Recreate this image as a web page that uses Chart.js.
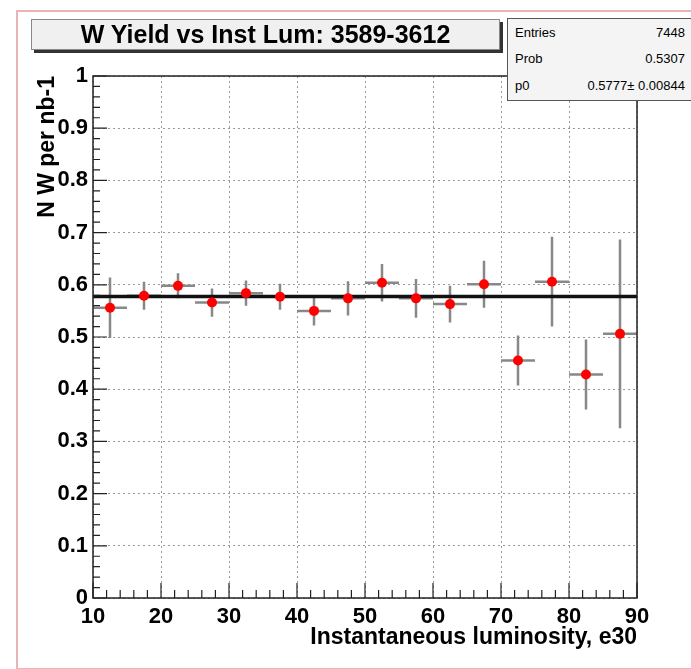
<!DOCTYPE html>
<html>
<head>
<meta charset="utf-8">
<script src="https://cdn.jsdelivr.net/npm/chart.js@4"></script>
<style>
  body { margin: 0; background: #fff; font-family: "Liberation Sans", Arial, sans-serif; }
  #wrap { position: relative; width: 691px; height: 669px; overflow: hidden; }
  #frame { position: absolute; left: 16px; top: 10px; width: 700px; height: 656px; border: 2px solid #e8b4b4; }
  #chartBox { position: absolute; left: 0; top: 0; width: 691px; height: 669px; }
  #title {
    position: absolute; left: 31px; top: 19px; width: 467px; height: 29px;
    background: #f0f0f0; border: 1px solid #888; box-shadow: 3px 3px 0 #333;
    font-weight: bold; font-size: 25px; line-height: 29px; text-align: center; color: #000;
  }
  #stats {
    position: absolute; left: 507px; top: 18px; width: 190px; height: 81px;
    background: #f4f4f4; border: 1px solid #555; font-size: 13px; color: #000;
  }
  #stats .row { position: absolute; left: 7px; width: 170px; height: 16px; line-height: 16px; }
  #stats .row span:last-child { position: absolute; right: 0; }
</style>
</head>
<body>
<div id="wrap">
  <div id="frame"></div>
  <div id="chartBox"><canvas id="chart"></canvas></div>
  <div id="title">W Yield vs Inst Lum: 3589-3612</div>
  <div id="stats">
    <div class="row" style="top:6px"><span>Entries</span><span>7448</span></div>
    <div class="row" style="top:32px"><span>Prob</span><span>0.5307</span></div>
    <div class="row" style="top:59px"><span>p0</span><span>0.5777&plusmn; 0.00844</span></div>
  </div>
</div>
<script>
// luminosity bins (centres, half width) and W yield per bin
const lumCenters = [12.5, 17.5, 22.5, 27.5, 32.5, 37.5, 42.5, 47.5, 52.5, 57.5, 62.5, 67.5, 72.5, 77.5, 82.5, 87.5];
const lumHalfWidth = [2.5, 2.5, 2.5, 2.5, 2.5, 2.5, 2.5, 2.5, 2.5, 2.5, 2.5, 2.5, 2.5, 2.5, 2.5, 2.5];
const yieldVals = [0.556, 0.579, 0.598, 0.566, 0.584, 0.577, 0.550, 0.574, 0.604, 0.574, 0.563, 0.601, 0.455, 0.606, 0.428, 0.506];
const yieldErrs = [0.058, 0.027, 0.024, 0.027, 0.024, 0.025, 0.028, 0.033, 0.036, 0.037, 0.035, 0.045, 0.048, 0.086, 0.067, 0.181];

// constant fit result
const fitP0 = 0.5777;
const fitRange = [10, 90];

const xTicks = [10, 20, 30, 40, 50, 60, 70, 80, 90];
const xTickLabels = ['10', '20', '30', '40', '50', '60', '70', '80', '90'];
const yTicks = [0, 0.1, 0.2, 0.3, 0.4, 0.5, 0.6, 0.7, 0.8, 0.9, 1];
const yTickLabels = ['0', '0.1', '0.2', '0.3', '0.4', '0.5', '0.6', '0.7', '0.8', '0.9', '1'];

const tickFont = { family: '"Liberation Sans", Arial, sans-serif', size: 22, weight: 'bold' };
const titleFont = { family: '"Liberation Sans", Arial, sans-serif', size: 23, weight: 'bold' };

// error bars go under the markers and the fit line
const errorBars = {
  id: 'errorBars',
  beforeDatasetsDraw(chart) {
    const ctx = chart.ctx;
    const xs = chart.scales.x, ys = chart.scales.y;
    const area = chart.chartArea;
    ctx.save();
    ctx.beginPath();
    ctx.rect(area.left, area.top, area.right - area.left, area.bottom - area.top);
    ctx.clip();
    ctx.strokeStyle = '#888';
    ctx.lineWidth = 2.5;
    lumCenters.forEach((x, i) => {
      const px = xs.getPixelForValue(x);
      const py = ys.getPixelForValue(yieldVals[i]);
      ctx.beginPath();
      ctx.moveTo(px, ys.getPixelForValue(yieldVals[i] - yieldErrs[i]));
      ctx.lineTo(px, ys.getPixelForValue(yieldVals[i] + yieldErrs[i]));
      ctx.moveTo(xs.getPixelForValue(x - lumHalfWidth[i]), py);
      ctx.lineTo(xs.getPixelForValue(x + lumHalfWidth[i]), py);
      ctx.stroke();
    });
    ctx.restore();
  }
};

// plot frame plus inward major/minor ticks
const frameTicks = {
  id: 'frameTicks',
  afterDatasetsDraw(chart) {
    const ctx = chart.ctx;
    const xs = chart.scales.x, ys = chart.scales.y;
    const a = chart.chartArea;
    ctx.save();
    ctx.strokeStyle = '#222';
    ctx.lineWidth = 1.5;
    ctx.strokeRect(a.left, a.top, a.right - a.left, a.bottom - a.top);
    ctx.lineWidth = 1.2;
    ctx.beginPath();
    for (let v = 10; v <= 90; v += 2) {
      const px = xs.getPixelForValue(v);
      const len = (v % 10 === 0) ? 15 : 8;
      ctx.moveTo(px, a.bottom);
      ctx.lineTo(px, a.bottom - len);
    }
    for (let k = 0; k <= 50; k++) {
      const py = ys.getPixelForValue(k * 0.02);
      const len = (k % 5 === 0) ? 14 : 7;
      ctx.moveTo(a.left, py);
      ctx.lineTo(a.left + len, py);
    }
    ctx.stroke();
    ctx.restore();
  }
};

new Chart(document.getElementById('chart').getContext('2d'), {
  type: 'scatter',
  data: {
    datasets: [{
      label: 'W yield',
      data: lumCenters.map((x, i) => ({ x, y: yieldVals[i] })),
      backgroundColor: '#ff0000',
      borderWidth: 0,
      pointRadius: 5,
      order: 0
    }, {
      type: 'line',
      label: 'p0 fit',
      data: fitRange.map(x => ({ x, y: fitP0 })),
      borderColor: '#111',
      borderWidth: 3.5,
      pointRadius: 0,
      order: 1
    }]
  },
  options: {
    responsive: true,
    maintainAspectRatio: false,
    animation: false,
    layout: { padding: { left: 0, top: 76, right: 54, bottom: 8 } },
    plugins: { legend: { display: false }, tooltip: { enabled: false } },
    scales: {
      x: {
        type: 'linear', min: 10, max: 90,
        afterBuildTicks: s => { s.ticks = xTicks.map(v => ({ value: v })); },
        afterFit: s => { s.height = 63; },
        grid: { color: '#999', lineWidth: 1, drawTicks: false },
        border: { display: false, dash: [2, 3] },
        ticks: {
          autoSkip: false, maxRotation: 0, padding: 6, color: '#000', font: tickFont,
          callback: (v, i) => xTickLabels[i]
        },
        title: {
          display: true, text: 'Instantaneous luminosity, e30', align: 'end',
          color: '#000', font: titleFont, padding: { top: 0, bottom: 10 }
        }
      },
      y: {
        type: 'linear', min: 0, max: 1,
        afterBuildTicks: s => { s.ticks = yTicks.map(v => ({ value: v })); },
        afterFit: s => { s.width = 93; },
        grid: { color: '#999', lineWidth: 1, drawTicks: false },
        border: { display: false, dash: [2, 3] },
        ticks: {
          autoSkip: false, padding: 5, color: '#000', font: tickFont,
          callback: (v, i) => yTickLabels[i]
        },
        title: {
          display: true, text: 'N W per nb-1', align: 'end',
          color: '#000', font: titleFont, padding: { top: 34, bottom: 0 }
        }
      }
    }
  },
  plugins: [errorBars, frameTicks]
});
</script>
</body>
</html>
